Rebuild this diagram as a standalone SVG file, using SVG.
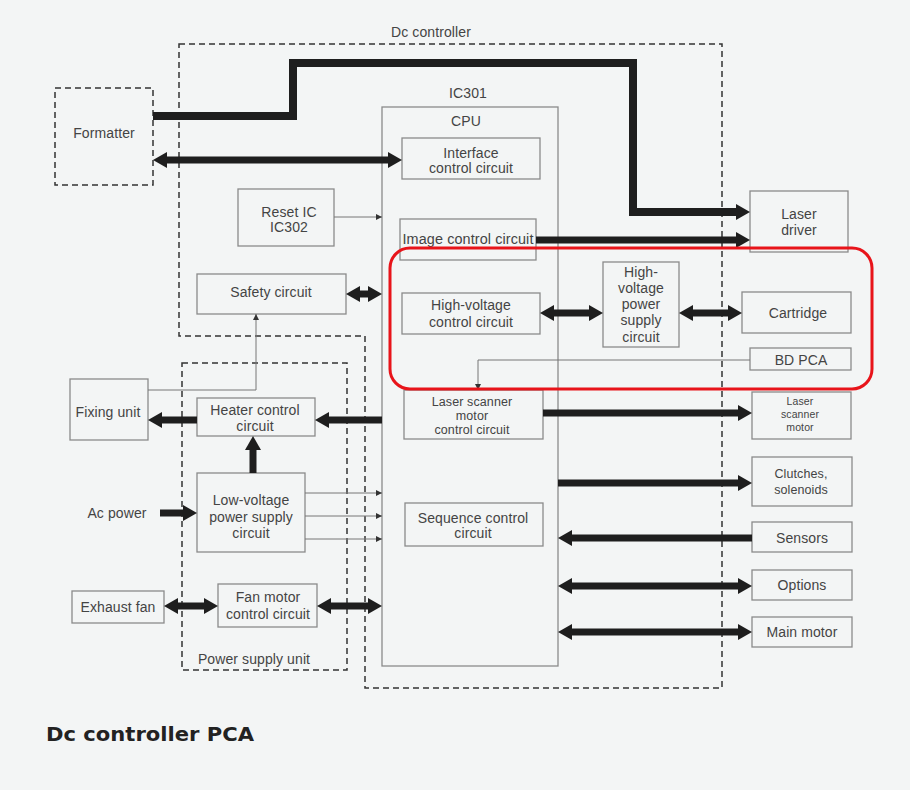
<svg xmlns="http://www.w3.org/2000/svg" width="910" height="790" viewBox="0 0 910 790">
<defs>
<style>
.box{fill:none;stroke:#8a8a8a;stroke-width:1.3}
.dash{fill:none;stroke:#333;stroke-width:1.5;stroke-dasharray:6 4}
.t{font-family:"Liberation Sans",Arial,sans-serif;font-size:14px;fill:#444;text-anchor:middle;letter-spacing:0.1px}
.s{font-size:12.5px}
.xs{font-size:10.5px}
.thick{fill:none;stroke:#1e1e1e;stroke-width:7}
.thin{fill:none;stroke:#777;stroke-width:1}
</style>
<marker id="ah" viewBox="0 0 14 16" markerWidth="14" markerHeight="16" refX="5" refY="8" orient="auto-start-reverse" markerUnits="userSpaceOnUse">
<path d="M0,0 L14,8 L0,16 Z" fill="#1e1e1e"/>
</marker>
<marker id="sa" viewBox="0 0 6 6" markerWidth="6" markerHeight="6" refX="6" refY="3" orient="auto" markerUnits="userSpaceOnUse">
<path d="M0,0 L6,3 L0,6 Z" fill="#333"/>
</marker>
</defs>
<rect x="0" y="0" width="910" height="790" fill="#f3f5f5"/>

<g id="dc-controller-boundary">
<path class="dash" d="M179,44 H722 V688 H365 V336 H179 Z"/>
<text class="t" x="431" y="37">Dc controller</text>
</g>
<g id="power-supply-unit">
<rect class="dash" x="182" y="363" width="165" height="307"/>
<text class="t" x="254" y="664">Power supply unit</text>
</g>
<g id="formatter">
<rect class="dash" x="55" y="88" width="98" height="97"/>
<text class="t" x="104" y="138">Formatter</text>
</g>
<g id="cpu">
<rect class="box" x="382" y="107" width="176" height="559"/>
<text class="t" x="468" y="98">IC301</text>
<text class="t" x="466" y="126">CPU</text>
</g>
<g id="interface-control">
<rect class="box" x="402" y="138" width="138" height="41"/>
<text class="t" x="471" y="158">Interface</text>
<text class="t" x="471" y="173">control circuit</text>
</g>
<g id="reset-ic">
<rect class="box" x="238" y="189" width="96" height="57"/>
<text class="t" x="289" y="217">Reset IC</text>
<text class="t" x="289" y="232">IC302</text>
</g>
<g id="image-control">
<rect class="box" x="400" y="219" width="136" height="41"/>
<text class="t" x="468" y="244" textLength="131" lengthAdjust="spacingAndGlyphs">Image control circuit</text>
</g>
<g id="laser-driver">
<rect class="box" x="750" y="191" width="98" height="61"/>
<text class="t" x="799" y="219">Laser</text>
<text class="t" x="799" y="235">driver</text>
</g>
<g id="safety-circuit">
<rect class="box" x="197" y="274" width="149" height="40"/>
<text class="t" x="271" y="297">Safety circuit</text>
</g>
<g id="hv-control">
<rect class="box" x="402" y="293" width="138" height="41"/>
<text class="t" x="471" y="310">High-voltage</text>
<text class="t" x="471" y="327">control circuit</text>
</g>
<g id="hv-power-supply">
<rect class="box" x="603" y="262" width="76" height="85"/>
<text class="t" x="641" y="277">High-</text>
<text class="t" x="641" y="293">voltage</text>
<text class="t" x="641" y="309">power</text>
<text class="t" x="641" y="325">supply</text>
<text class="t" x="641" y="342">circuit</text>
</g>
<g id="cartridge">
<rect class="box" x="742" y="292" width="109" height="41"/>
<text class="t" x="798" y="318">Cartridge</text>
</g>
<g id="bd-pca">
<rect class="box" x="750" y="348" width="101" height="22"/>
<text class="t" x="801" y="365">BD PCA</text>
</g>
<g id="laser-scanner-motor-control">
<rect class="box" x="404" y="390" width="139" height="49"/>
<text class="t s" x="472" y="406">Laser scanner</text>
<text class="t s" x="472" y="420">motor</text>
<text class="t s" x="472" y="434">control circuit</text>
</g>
<g id="laser-scanner-motor">
<rect class="box" x="752" y="392" width="99" height="47"/>
<text class="t xs" x="800" y="405">Laser</text>
<text class="t xs" x="800" y="418">scanner</text>
<text class="t xs" x="800" y="431">motor</text>
</g>
<g id="fixing-unit">
<rect class="box" x="70" y="379" width="78" height="61"/>
<text class="t" x="108" y="417">Fixing unit</text>
</g>
<g id="heater-control">
<rect class="box" x="197" y="398" width="118" height="38"/>
<text class="t" x="255" y="415">Heater control</text>
<text class="t" x="255" y="431">circuit</text>
</g>
<g id="low-voltage-supply">
<rect class="box" x="197" y="473" width="108" height="79"/>
<text class="t" x="251" y="505">Low-voltage</text>
<text class="t" x="251" y="522">power supply</text>
<text class="t" x="251" y="538">circuit</text>
</g>
<g id="ac-power">
<text class="t" x="117" y="518">Ac power</text>
</g>
<g id="exhaust-fan">
<rect class="box" x="72" y="591" width="92" height="32"/>
<text class="t" x="118" y="612">Exhaust fan</text>
</g>
<g id="fan-motor-control">
<rect class="box" x="218" y="584" width="99" height="43"/>
<text class="t" x="268" y="602">Fan motor</text>
<text class="t" x="268" y="619">control circuit</text>
</g>
<g id="sequence-control">
<rect class="box" x="405" y="503" width="138" height="43"/>
<text class="t" x="473" y="523">Sequence control</text>
<text class="t" x="473" y="538">circuit</text>
</g>
<g id="clutches-solenoids">
<rect class="box" x="752" y="457" width="100" height="49"/>
<text class="t s" x="801" y="478">Clutches,</text>
<text class="t s" x="801" y="494">solenoids</text>
</g>
<g id="sensors">
<rect class="box" x="752" y="522" width="100" height="30"/>
<text class="t" x="802" y="543">Sensors</text>
</g>
<g id="options">
<rect class="box" x="752" y="570" width="100" height="30"/>
<text class="t" x="802" y="590">Options</text>
</g>
<g id="main-motor">
<rect class="box" x="752" y="617" width="100" height="30"/>
<text class="t" x="802" y="637">Main motor</text>
</g>

<g id="connectors">
<path class="thick" d="M153,116 H293 V63 H633 V212 H741" style="stroke-width:8" marker-end="url(#ah)"/>
<path class="thick" d="M162,160 H393" marker-start="url(#ah)" marker-end="url(#ah)"/>
<path class="thin" d="M334,217 H382" marker-end="url(#sa)"/>
<path class="thick" d="M536,240 H741" marker-end="url(#ah)"/>
<path class="thick" d="M355,294 H373" marker-start="url(#ah)" marker-end="url(#ah)"/>
<path class="thin" d="M148,390 H256 V314" marker-end="url(#sa)"/>
<path class="thick" d="M382,420 H324" marker-end="url(#ah)"/>
<path class="thick" d="M197,420 H157" marker-end="url(#ah)"/>
<path class="thick" d="M253,473 V445" marker-end="url(#ah)"/>
<path class="thick" d="M160,513 H188" marker-end="url(#ah)"/>
<path class="thin" d="M305,493 H382" marker-end="url(#sa)"/>
<path class="thin" d="M305,516 H382" marker-end="url(#sa)"/>
<path class="thin" d="M305,539 H382" marker-end="url(#sa)"/>
<path class="thick" d="M173,606 H209" marker-start="url(#ah)" marker-end="url(#ah)"/>
<path class="thick" d="M326,606 H373" marker-start="url(#ah)" marker-end="url(#ah)"/>
<path class="thick" d="M549,313 H594" marker-start="url(#ah)" marker-end="url(#ah)"/>
<path class="thick" d="M688,313 H733" marker-start="url(#ah)" marker-end="url(#ah)"/>
<path class="thin" d="M750,360 H478 V390" marker-end="url(#sa)"/>
<path class="thick" d="M543,413 H743" marker-end="url(#ah)"/>
<path class="thick" d="M558,483 H743" marker-end="url(#ah)"/>
<path class="thick" d="M752,538 H567" marker-end="url(#ah)"/>
<path class="thick" d="M567,586 H743" marker-start="url(#ah)" marker-end="url(#ah)"/>
<path class="thick" d="M567,632 H743" marker-start="url(#ah)" marker-end="url(#ah)"/>
</g>

<g id="highlight">
<rect x="390" y="248" width="482" height="141" rx="20" ry="20" fill="none" stroke="#e8141a" stroke-width="3"/>
</g>
<g id="title">
<text x="46" y="741" textLength="208" lengthAdjust="spacingAndGlyphs" style="font-family:'DejaVu Sans','Liberation Sans',sans-serif;font-size:19px;font-weight:bold;fill:#222">Dc controller PCA</text>
</g>
</svg>
